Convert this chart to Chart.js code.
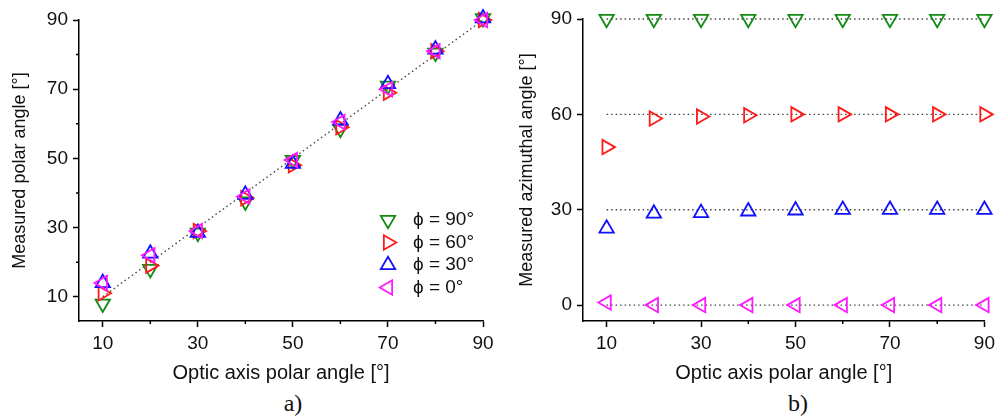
<!DOCTYPE html>
<html>
<head>
<meta charset="utf-8">
<script src="https://cdn.jsdelivr.net/npm/chart.js@4/dist/chart.umd.min.js"></script>
<style>
  body { margin: 0; background: #fff; }
  #wrap { position: relative; width: 1000px; height: 417px; }
  .panel { position: absolute; top: 0; }
  .tag {
    position: absolute; top: 390px; transform: translateX(-50%);
    font-family: "Liberation Serif", "Times New Roman", serif; font-size: 24px; color: #111;
  }
</style>
</head>
<body>
<div id="wrap">
  <canvas id="polarChart" class="panel" style="left:0" width="500" height="390"></canvas>
  <canvas id="azimChart" class="panel" style="left:500px" width="500" height="390"></canvas>
  <div class="tag" style="left:293px">a)</div>
  <div class="tag" style="left:798px">b)</div>
</div>
<script>
// optic axis polar angle (x) for every series
const xAngles = [10, 20, 30, 40, 50, 60, 70, 80, 90];

// a) measured polar angle
const polarPhi90 = [8, 18, 28.5, 37.5, 49.5, 58.5, 71, 80.5, 90.5];
const polarPhi60 = [11, 19, 29, 38.5, 48, 59, 69, 81, 90];
const polarPhi30 = [14, 22.5, 28.5, 39.5, 48.5, 61, 71.5, 81.5, 90.5];
const polarPhi0 = [14, 22, 29, 39, 49.5, 60.5, 70, 81, 90];

// b) measured azimuthal angle
const azimPhi90 = [90, 90, 90, 90, 90, 90, 90, 90, 90];
const azimPhi60 = [49.7, 58.7, 59.3, 59.7, 60, 60, 60, 60, 60];
const azimPhi30 = [24.1, 28.8, 29, 29.5, 29.8, 30, 30, 30, 30];
const azimPhi0 = [0.8, 0, 0, 0, 0, 0, 0, 0, 0];

// dotted guide lines
const diagLine = [10, 90];
const refAzim = [90, 60, 30, 0];

const seriesLabels = ["ϕ = 90°", "ϕ = 60°", "ϕ = 30°", "ϕ = 0°"];
const seriesColors = ["#138a13", "#ff1a1a", "#1010ff", "#ff19ff"];
const seriesRotation = [180, 90, 0, 270];

const FONT = "'Liberation Sans', Arial, sans-serif";

function pts(ys) {
  return xAngles.map((x, i) => ({ x: x, y: ys[i] }));
}

function markerSet(i, ys) {
  return {
    label: seriesLabels[i],
    data: pts(ys),
    pointStyle: "triangle",
    rotation: seriesRotation[i],
    pointRadius: 8.3,
    pointHoverRadius: 8.3,
    borderColor: seriesColors[i],
    pointBorderColor: seriesColors[i],
    backgroundColor: "rgba(0,0,0,0)",
    pointBorderWidth: 1.8,
    showLine: false,
    clip: false,
    order: 5 - i   // magenta ends up on top
  };
}

function guideSet(data) {
  return {
    label: "guide",
    data: data,
    showLine: true,
    borderColor: "#444",
    borderWidth: 1.4,
    borderDash: [1.5, 3],
    pointRadius: 0,
    clip: false,
    order: 10
  };
}

const isOddTen = v => (v - 10) % 20 === 0;

// short minor ticks (Chart.js only has one tick length)
const minorTicks = {
  id: "minorTicks",
  afterDraw(chart) {
    const ctx = chart.ctx;
    const area = chart.chartArea;
    ctx.save();
    ctx.strokeStyle = "#000";
    ctx.lineWidth = 1.5;
    ctx.beginPath();
    chart.scales.x.ticks.forEach(t => {
      if (!isOddTen(t.value)) {
        const px = chart.scales.x.getPixelForValue(t.value);
        ctx.moveTo(px, area.bottom);
        ctx.lineTo(px, area.bottom + 3);
      }
    });
    if (chart.options.minorY) {
      chart.scales.y.ticks.forEach(t => {
        if (!isOddTen(t.value)) {
          const py = chart.scales.y.getPixelForValue(t.value);
          ctx.moveTo(area.left, py);
          ctx.lineTo(area.left - 3, py);
        }
      });
    }
    ctx.stroke();
    ctx.restore();
  }
};

// legend drawn inside the plot area of panel a)
const phiLegend = {
  id: "phiLegend",
  afterDraw(chart) {
    if (!chart.options.showPhiLegend) return;
    const ctx = chart.ctx;
    ctx.save();
    seriesLabels.forEach((txt, i) => {
      const y = 220 + i * 22.5;
      ctx.strokeStyle = seriesColors[i];
      ctx.fillStyle = "rgba(0,0,0,0)";
      ctx.lineWidth = 1.8;
      Chart.helpers.drawPoint(ctx, { pointStyle: "triangle", rotation: seriesRotation[i], radius: 8.3, borderWidth: 1.8 }, 388, y);
      ctx.fillStyle = "#111";
      ctx.font = "19px " + FONT;
      ctx.textBaseline = "middle";
      ctx.textAlign = "left";
      ctx.fillText(txt, 413, y);
    });
    ctx.restore();
  }
};

function axisX() {
  return {
    type: "linear",
    min: 5,
    max: 90,
    afterFit: s => { s.height = 69; },
    ticks: {
      stepSize: 10,
      includeBounds: false,
      autoSkip: false,
      maxRotation: 0,
      padding: 5,
      color: "#111",
      font: { family: FONT, size: 19 },
      callback: v => (isOddTen(v) ? v : "")
    },
    grid: {
      drawOnChartArea: false,
      tickLength: 6,
      tickWidth: 1.5,
      tickColor: c => (c.tick && isOddTen(c.tick.value) ? "#000" : "rgba(0,0,0,0)")
    },
    border: { color: "#000", width: 1.5 },
    title: {
      display: true,
      text: "Optic axis polar angle [°]",
      color: "#111",
      font: { family: FONT, size: 20 },
      padding: { top: 0, bottom: 5 }
    }
  };
}

function axisY(min, step, width, title, titlePad, minor) {
  return {
    type: "linear",
    min: min,
    max: 90,
    afterFit: s => { s.width = width; },
    ticks: {
      stepSize: step,
      includeBounds: false,
      autoSkip: false,
      padding: 5,
      color: "#111",
      font: { family: FONT, size: 19 },
      callback: v => (!minor || isOddTen(v) ? v : "")
    },
    grid: {
      drawOnChartArea: false,
      tickLength: 6,
      tickWidth: 1.5,
      tickColor: c => (!minor || (c.tick && isOddTen(c.tick.value)) ? "#000" : "rgba(0,0,0,0)")
    },
    border: { color: "#000", width: 1.5 },
    title: {
      display: true,
      text: title,
      color: "#111",
      font: { family: FONT, size: 18 },
      padding: { top: titlePad, bottom: 0 }
    }
  };
}

const baseOpts = {
  responsive: false,
  animation: false,
  devicePixelRatio: 1,
  plugins: { legend: { display: false }, tooltip: { enabled: false } }
};

new Chart(document.getElementById("polarChart"), {
  type: "scatter",
  data: {
    datasets: [
      markerSet(0, polarPhi90),
      markerSet(1, polarPhi60),
      markerSet(2, polarPhi30),
      markerSet(3, polarPhi0),
      guideSet(diagLine.map(v => ({ x: v, y: v })))
    ]
  },
  options: Object.assign({}, baseOpts, {
    minorY: true,
    showPhiLegend: true,
    layout: { padding: { top: 20, right: 17, bottom: 0, left: 0 } },
    scales: {
      x: axisX(),
      y: axisY(3, 10, 79, "Measured polar angle [°]", 9, true)
    }
  }),
  plugins: [minorTicks, phiLegend]
});

const azimSets = [
  markerSet(0, azimPhi90),
  markerSet(1, azimPhi60),
  markerSet(2, azimPhi30),
  markerSet(3, azimPhi0)
];
refAzim.forEach(v => {
  azimSets.push(guideSet([{ x: xAngles[0], y: v }, { x: xAngles[xAngles.length - 1], y: v }]));
});

new Chart(document.getElementById("azimChart"), {
  type: "scatter",
  data: { datasets: azimSets },
  options: Object.assign({}, baseOpts, {
    minorY: false,
    showPhiLegend: false,
    layout: { padding: { top: 19, right: 13, bottom: 0, left: 0 } },
    scales: {
      x: axisX(),
      y: axisY(-5, 30, 83, "Measured azimuthal angle [°]", 16, false)
    }
  }),
  plugins: [minorTicks]
});
</script>
</body>
</html>
